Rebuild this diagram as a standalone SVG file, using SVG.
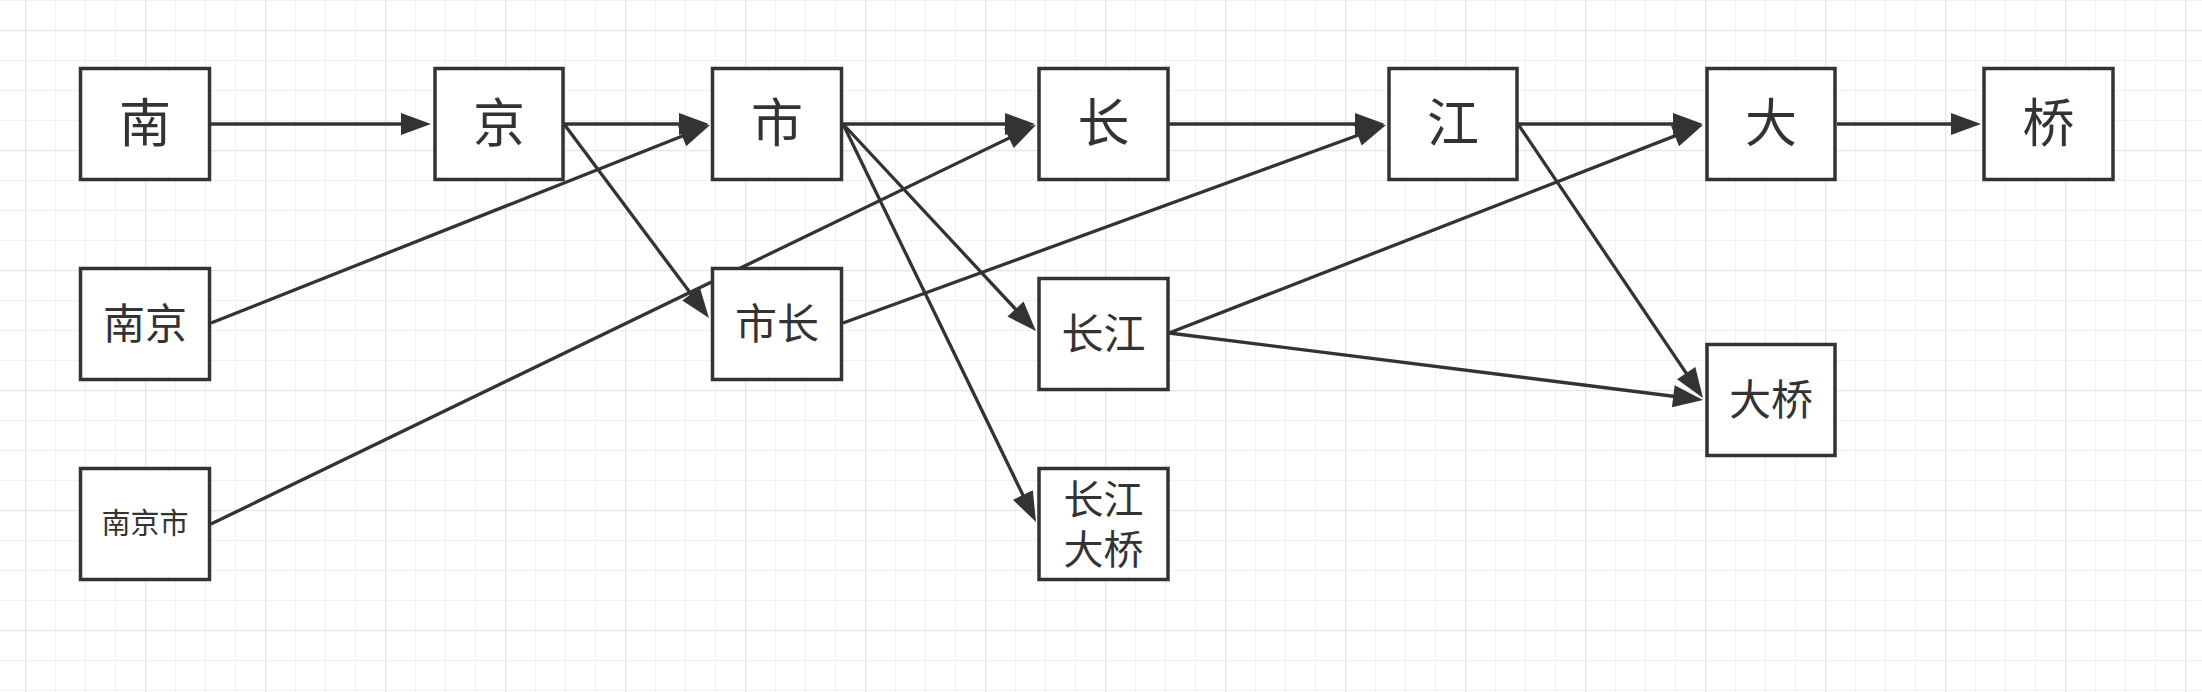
<svg xmlns="http://www.w3.org/2000/svg" width="2202" height="692" viewBox="0 0 2202 692">
<style>
.box{fill:#fff;stroke:#333;stroke-width:3.5}
.t{font-family:"Liberation Sans","Noto Sans CJK SC",sans-serif;fill:#333;text-anchor:middle;dominant-baseline:central}
.e{stroke:#333;stroke-width:3.3;fill:none;marker-end:url(#ah)}
</style>
<defs>
<pattern id="gmin" x="25" y="0" width="30" height="30" patternUnits="userSpaceOnUse">
<path d="M0 0.5H30M0.5 0V30" stroke="#f1f1f1" stroke-width="1" fill="none"/>
</pattern>
<pattern id="gmaj" x="25" y="30" width="120" height="120" patternUnits="userSpaceOnUse">
<path d="M0 0.5H120M0.5 0V120" stroke="#e6e6e6" stroke-width="1.5" fill="none"/>
</pattern>
<marker id="ah" markerUnits="userSpaceOnUse" markerWidth="30" markerHeight="22" refX="22" refY="11" orient="auto" overflow="visible">
<path d="M0 0L30 11L0 22Z" fill="#333"/>
</marker>
</defs>
<rect width="2202" height="692" fill="#fff"/>
<rect width="2202" height="692" fill="url(#gmin)"/>
<rect width="2202" height="692" fill="url(#gmaj)"/>
<g id="connectors">
<line class="e" x1="210" y1="124" x2="423" y2="124"/>
<line class="e" x1="564" y1="124" x2="701" y2="124"/>
<line class="e" x1="564" y1="124" x2="704.2" y2="311.6"/>
<line class="e" x1="211" y1="323" x2="702.6" y2="128"/>
<line class="e" x1="211" y1="524" x2="1028.8" y2="128.5"/>
<line class="e" x1="843" y1="124" x2="1027" y2="124"/>
<line class="e" x1="843" y1="124" x2="1030.5" y2="325.2"/>
<line class="e" x1="843" y1="124" x2="1032.5" y2="514.8"/>
<line class="e" x1="843" y1="323" x2="1378.5" y2="127.7"/>
<line class="e" x1="1169" y1="124" x2="1377" y2="124"/>
<line class="e" x1="1518" y1="124" x2="1695" y2="124"/>
<line class="e" x1="1518" y1="124" x2="1698.5" y2="391.4"/>
<line class="e" x1="1169" y1="333" x2="1695.5" y2="127.9"/>
<line class="e" x1="1169" y1="333" x2="1695.1" y2="399"/>
<line class="e" x1="1837" y1="124" x2="1973" y2="124"/>
</g>
<g id="n-nan"><rect class="box" x="80.5" y="68.5" width="129" height="111"/><text class="t" x="145" y="124" font-size="52">南</text></g>
<g id="n-jing"><rect class="box" x="435" y="68.5" width="128" height="111"/><text class="t" x="499" y="124" font-size="52">京</text></g>
<g id="n-shi"><rect class="box" x="712.5" y="68.5" width="129" height="111"/><text class="t" x="777" y="124" font-size="52">市</text></g>
<g id="n-chang"><rect class="box" x="1039" y="68.5" width="129" height="111"/><text class="t" x="1103.5" y="124" font-size="52">长</text></g>
<g id="n-jiang"><rect class="box" x="1389" y="68.5" width="128" height="111"/><text class="t" x="1453" y="124" font-size="52">江</text></g>
<g id="n-da"><rect class="box" x="1707" y="68.5" width="128" height="111"/><text class="t" x="1771" y="124" font-size="52">大</text></g>
<g id="n-qiao"><rect class="box" x="1984" y="68.5" width="129" height="111"/><text class="t" x="2048.5" y="124" font-size="52">桥</text></g>
<g id="n-nanjing"><rect class="box" x="80.5" y="268.5" width="129" height="111"/><text class="t" x="145" y="324" font-size="42">南京</text></g>
<g id="n-nanjingshi"><rect class="box" x="80.5" y="468.5" width="129" height="111"/><text class="t" x="145" y="524" font-size="29">南京市</text></g>
<g id="n-shichang"><rect class="box" x="712.5" y="268.5" width="129" height="111"/><text class="t" x="777" y="324" font-size="42">市长</text></g>
<g id="n-changjiang"><rect class="box" x="1039" y="278.5" width="129" height="111"/><text class="t" x="1103.5" y="334" font-size="42">长江</text></g>
<g id="n-changjiangdaqiao"><rect class="box" x="1039" y="468.5" width="129" height="111"/><text class="t" x="1103.5" y="499.5" font-size="40">长江</text><text class="t" x="1103.5" y="550" font-size="40">大桥</text></g>
<g id="n-daqiao"><rect class="box" x="1707" y="344.5" width="128" height="111"/><text class="t" x="1771" y="400" font-size="42">大桥</text></g>
</svg>
